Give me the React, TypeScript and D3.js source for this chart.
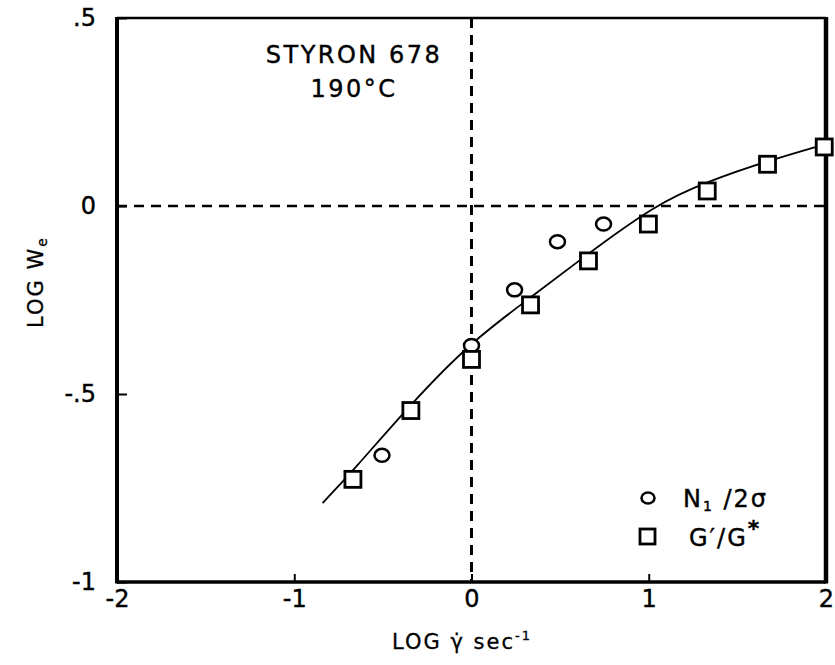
import React, { useEffect, useRef } from 'react';
import * as d3 from 'd3';

// N1/2sigma points (circles)
const circleX = [-0.505, 0, 0.243, 0.485, 0.745];
const circleY = [-0.663, -0.371, -0.223, -0.095, -0.048];

// G'/G* points (squares)
const squareX = [-0.669, -0.342, 0, 0.333, 0.66, 0.998, 1.33, 1.67, 1.99];
const squareY = [-0.727, -0.544, -0.408, -0.263, -0.146, -0.048, 0.04, 0.111, 0.157];

// hand drawn fit curve
const fitX = [-0.84, -0.67, -0.34, 0, 0.33, 0.62, 1.04, 1.33, 1.67, 2.0];
const fitY = [-0.79, -0.705, -0.525, -0.36, -0.245, -0.14, 0.005, 0.065, 0.12, 0.165];

const xTicks = [-2, -1, 0, 1, 2];
const xTickLabels = ['-2', '-1', '0', '1', '2'];
const yTicks = [0.5, 0, -0.5, -1];
const yTickLabels = ['.5', '0', '-.5', '-1'];

const W = 835;
const H = 665;
const FONT = '"DejaVu Sans", "Liberation Sans", sans-serif';

const App = () => {
  const axRef = useRef<SVGGElement>(null);

  const x = d3.scaleLinear().domain([-2, 2]).range([117, 826]);
  const y = d3.scaleLinear().domain([-1, 0.5]).range([582, 18]);

  useEffect(() => {
    const g = d3.select(axRef.current);
    g.selectAll('*').remove();

    const bottom = d3.axisBottom(x)
      .tickValues(xTicks)
      .tickFormat((d, i) => xTickLabels[i])
      .tickSize(-8)
      .tickPadding(8);
    const left = d3.axisLeft(y)
      .tickValues(yTicks)
      .tickFormat((d, i) => yTickLabels[i])
      .tickSize(-10)
      .tickPadding(21);

    const gb = g.append('g').attr('transform', `translate(0,${y(-1)})`).call(bottom);
    const gl = g.append('g').attr('transform', `translate(${x(-2)},0)`).call(left);

    [gb, gl].forEach(a => {
      a.select('.domain').remove();
      a.selectAll('line').attr('stroke', '#000').attr('stroke-width', 2);
      a.selectAll('text')
        .attr('fill', '#000')
        .attr('stroke', '#000')
        .attr('stroke-width', 0.4)
        .style('font-family', FONT)
        .style('font-size', '24px');
    });
  }, []);

  const line = d3.line<number>()
    .x((d, i) => x(fitX[i]))
    .y((d, i) => y(fitY[i]))
    .curve(d3.curveBasis);

  const x0 = x(-2), x1 = x(2), y0 = y(-1), y1 = y(0.5);

  return (
    <svg width={W} height={H} style={{ position: 'absolute', left: 0, top: 0, background: '#fff' }}>
      <rect width={W} height={H} fill="#fff" />

      {/* dashed reference lines */}
      <line x1={x(0)} x2={x(0)} y1={y1} y2={y0} stroke="#000" strokeWidth={3} strokeDasharray="10,7" />
      <line x1={x0} x2={x1} y1={y(0)} y2={y(0)} stroke="#000" strokeWidth={2.5} strokeDasharray="10,7" />

      {/* frame */}
      <line x1={x0} x2={x1} y1={y1} y2={y1} stroke="#000" strokeWidth={2.5} />
      <line x1={x0} x2={x1} y1={y0} y2={y0} stroke="#000" strokeWidth={3.5} />
      <line x1={x0} x2={x0} y1={y1 - 1} y2={y0 + 1.5} stroke="#000" strokeWidth={4} />
      <line x1={x1} x2={x1} y1={y1 - 1} y2={y0 + 1.5} stroke="#000" strokeWidth={4.5} />

      <g ref={axRef} />

      {/* fit curve */}
      <path d={line(fitX) || ''} fill="none" stroke="#000" strokeWidth={1.8} />

      {/* markers */}
      {circleX.map((cx, i) => (
        <ellipse key={'c' + i} cx={x(cx)} cy={y(circleY[i])} rx={7.5} ry={6.5}
          fill="#fff" stroke="#000" strokeWidth={2.5} />
      ))}
      {squareX.map((sx, i) => (
        <rect key={'s' + i} x={x(sx) - 8} y={y(squareY[i]) - 8} width={16} height={16}
          fill="#fff" stroke="#000" strokeWidth={2.8} />
      ))}

      {/* annotation */}
      <g style={{ fontFamily: FONT, fontSize: 24 }} fill="#000" stroke="#000" strokeWidth={0.4}>
        <text x={354} y={63} textAnchor="middle" letterSpacing={2.5}>STYRON  678</text>
        <text x={354} y={97} textAnchor="middle" letterSpacing={2.5}>190°C</text>
      </g>

      {/* legend */}
      <g style={{ fontFamily: FONT, fontSize: 24 }} fill="#000">
        <ellipse cx={648} cy={498} rx={6.5} ry={5.5} fill="#fff" stroke="#000" strokeWidth={2.5} />
        <text x={683} y={507} letterSpacing={2} stroke="#000" strokeWidth={0.4}>N<tspan fontSize={14} dy={4}>1</tspan><tspan dy={-4}> /2σ</tspan></text>
        <rect x={640} y={529} width={15} height={15} fill="#fff" stroke="#000" strokeWidth={2.8} />
        <text x={689} y={546} letterSpacing={2} stroke="#000" strokeWidth={0.4}>G′/G<tspan fontSize={22} fontWeight="bold" dy={-10}>*</tspan></text>
      </g>

      {/* axis titles */}
      <text x={392} y={649} style={{ fontFamily: FONT, fontSize: 21 }} letterSpacing={2} fill="#000" stroke="#000" strokeWidth={0.3}>
        LOG  γ̇  sec<tspan fontSize={13} dy={-9}>-1</tspan>
      </text>
      <text transform="translate(43,282) rotate(-90)" textAnchor="middle"
        style={{ fontFamily: FONT, fontSize: 21 }} letterSpacing={2} fill="#000" stroke="#000" strokeWidth={0.3}>
        LOG W<tspan fontSize={14} dy={4}>e</tspan>
      </text>
    </svg>
  );
};

export default App;
